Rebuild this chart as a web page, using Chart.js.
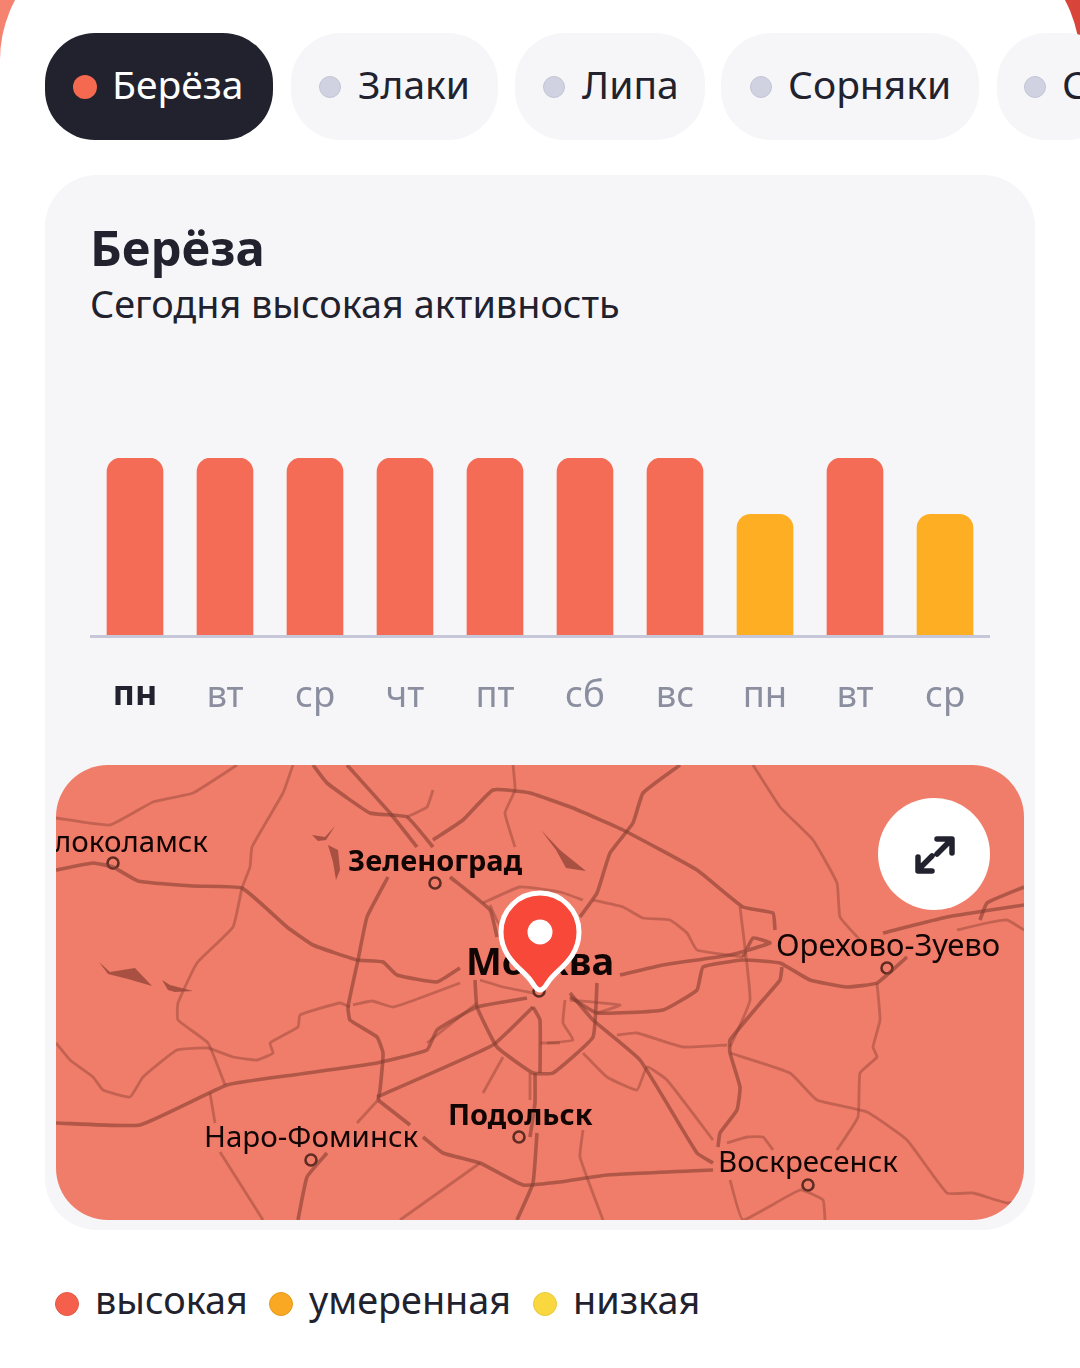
<!DOCTYPE html>
<html lang="ru"><head><meta charset="utf-8">
<script src="https://cdn.jsdelivr.net/npm/chart.js@4"></script>
<style>
html,body{margin:0;padding:0;width:1080px;height:1368px;overflow:hidden;background:linear-gradient(90deg,#f5836f 0%,#f0705c 50%,#d8443a 100%);font-family:"Noto Sans",sans-serif;color:#21222e}
#sheet{position:absolute;left:0;top:-67px;width:1080px;height:1500px;background:#fff;border-radius:127px 127px 0 0}
.abs{position:absolute}
.tab{position:absolute;top:33px;height:107px;border-radius:50px;background:#f6f6f9;font-size:39px;line-height:102px;white-space:nowrap;overflow:hidden}
.tab.on{background:#21222e;color:#fff}
.tab i,.leg i{position:absolute;border-radius:50%;box-sizing:border-box}
.tab i{width:22px;height:22px;top:43px;background:#d0d2e1;border:1px solid #c2c4d6}
.tab.on i{background:#f4694f;border:0;width:24px;height:24px;top:42px}
.tab span{position:absolute;top:0}
#card{position:absolute;left:45px;top:175px;width:990px;height:1055px;background:#f6f6f9;border-radius:52px}
#ttl{position:absolute;left:90px;top:213px;font-size:49px;font-weight:700;line-height:68px}
#sub{position:absolute;left:90px;top:279px;font-size:37.8px;line-height:50px;white-space:nowrap}
#bars{position:absolute;left:90px;top:458px}
#mapbox{position:absolute;left:56px;top:765px;width:968px;height:455px;border-radius:52px;overflow:hidden;background:#f07c6a}
#mapbox canvas{position:absolute;left:0;top:0}
.city{position:absolute;color:#120605;white-space:nowrap;font-size:29.5px;line-height:34px;text-shadow:0 0 2px rgba(240,124,106,.9)}
.city.b{font-weight:700}
.leg{position:absolute;font-size:37.8px;line-height:50px;top:1275px;white-space:nowrap}
.dot{position:absolute;width:24px;height:24px;top:1292px;border-radius:50%}
</style></head><body>
<div id="sheet"></div>
<div class="tab on" style="left:45px;width:228px"><i style="left:28px"></i><span style="left:67px">Берёза</span></div>
<div class="tab" style="left:291px;width:207px"><i style="left:28px"></i><span style="left:67px">Злаки</span></div>
<div class="tab" style="left:515px;width:190px"><i style="left:28px"></i><span style="left:67px">Липа</span></div>
<div class="tab" style="left:721px;width:258px"><i style="left:29px"></i><span style="left:67px">Сорняки</span></div>
<div class="tab" style="left:997px;width:120px"><i style="left:27px"></i><span style="left:65px">Сосна</span></div>
<div id="card"></div>
<div id="ttl">Берёза</div>
<div id="sub">Сегодня высокая активность</div>
<canvas id="bars" width="900" height="280" style="width:900px;height:280px"></canvas>
<div id="mapbox">
<canvas id="map" width="968" height="455" style="width:968px;height:455px"></canvas>
<div class="city" style="right:816px;top:59px">Волоколамск</div>
<div class="city b" style="left:292px;top:78px;font-size:29px">Зеленоград</div>
<div class="city b" style="left:410px;top:171px;font-size:38px;line-height:48px">Москва</div>
<div class="city" style="left:720px;top:162px;font-size:31px">Орехово-Зуево</div>
<div class="city" style="left:148px;top:354px">Наро-Фоминск</div>
<div class="city b" style="left:392px;top:332px;font-size:29px">Подольск</div>
<div class="city" style="left:662px;top:379px">Воскресенск</div>
<svg class="abs" style="left:0;top:0" width="968" height="455" viewBox="56 765 968 455">
<path d="M540 990c-4 0-5-4-9-9-7-11-30-22-30-49a39 39 0 0 1 78 0c0 27-23 38-30 49-4 5-5 9-9 9z" fill="#f8483a" stroke="#fff" stroke-width="5" stroke-linejoin="round"/>
<circle cx="540" cy="932" r="12.5" fill="#fff"/>
<circle cx="934" cy="854" r="56" fill="#fff"/>
<path d="M948 843l-11 11M937 839h15v14M922 866l10-10M918 857v14h14" fill="none" stroke="#21222e" stroke-width="5.5" stroke-linecap="round" stroke-linejoin="round"/>
</svg>
</div>
<div class="dot" style="left:55px;background:#f4604c;border:1px solid #e25a46;box-sizing:border-box"></div>
<div class="leg" style="left:95px">высокая</div>
<div class="dot" style="left:269px;background:#f8a823;border:1px solid #e59a1f;box-sizing:border-box"></div>
<div class="leg" style="left:309px">умеренная</div>
<div class="dot" style="left:533px;background:#f9d83f;border:1px solid #e8c938;box-sizing:border-box"></div>
<div class="leg" style="left:573px">низкая</div>
<script>
const days=["пн","вт","ср","чт","пт","сб","вс","пн","вт","ср"];
const activity=[100,100,100,100,100,100,100,68.5,100,68.5];
const barColors=["#f46c56","#f46c56","#f46c56","#f46c56","#f46c56","#f46c56","#f46c56","#fdae23","#f46c56","#fdae23"];

const majorRoads=[
[[56,870],[93,863],[113,867],[138,881],[193,886],[242,888],[287,927],[313,945],[357,960],[383,962],[397,975],[437,982],[460,968]],
[[56,1123],[140,1125],[227,1085],[293,1075],[377,1063],[427,1050],[437,1030],[477,1007],[527,998]],
[[377,1097],[493,1045],[533,1007]],
[[388,877],[367,917],[358,960],[348,1007],[350,1020],[377,1037],[383,1053],[380,1090],[378,1100]],
[[378,1100],[410,1125]],[[423,1137],[443,1153],[480,1163],[523,1185],[560,1182],[607,1175],[713,1170]],
[[475,980],[477,1007],[497,1047],[533,1073],[553,1073],[593,1037],[597,983]],
[[313,765],[327,783],[370,813],[407,817],[433,847]],[[347,765],[390,813],[417,847]],
[[433,840],[463,820],[493,790],[530,793],[573,808],[623,830],[697,870],[743,907],[773,913],[775,930]],
[[680,765],[643,793],[633,823],[610,853],[597,893],[580,917]],
[[450,877],[490,910],[497,937]],
[[620,975],[663,965],[730,955],[770,943],[753,938],[743,957]],
[[570,997],[597,1013],[663,1010],[697,990],[703,967],[743,960],[780,963],[810,980],[847,987],[877,983],[907,957]],
[[782,967],[780,980],[763,1000],[730,1040],[730,1053],[740,1087],[737,1110],[720,1133],[718,1147]],
[[570,993],[593,1020],[640,1060],[697,1153],[713,1163]],
[[883,933],[947,917],[1024,905]],[[980,920],[987,903],[1024,887]],
[[327,1153],[307,1177],[298,1220]],
[[537,1133],[533,1183],[517,1220]],[[533,1007],[540,1020],[540,1073]],[[535,1073],[535,1103],[530,1137]]
];
const minorRoads=[
[[56,818],[110,825],[153,802],[193,793],[237,765]],
[[293,765],[283,793],[252,847],[250,867],[242,888],[233,927],[197,963],[178,1003],[178,1020],[208,1043],[225,1085]],
[[56,1043],[70,1060],[93,1077],[103,1090],[130,1097],[143,1077],[177,1050],[208,1048],[233,1057],[257,1060],[273,1053],[270,1043],[298,1027],[300,1015],[340,1003],[350,1007]],
[[378,1100],[357,1123]],
[[220,1152],[263,1220]],[[210,1093],[215,1123]],
[[433,790],[427,807],[407,817]],
[[513,765],[515,790],[505,813],[515,847]],
[[483,903],[520,887],[560,892],[583,900]],
[[593,900],[623,907],[643,918],[670,920],[687,933],[697,950],[743,957]],
[[730,1053],[790,1073],[817,1100],[867,1112],[907,1140],[947,1193],[973,1193],[1007,1203],[1024,1200]],
[[877,983],[880,1020],[873,1047],[877,1057],[860,1073],[858,1117],[837,1150]],
[[753,765],[780,807],[813,840],[837,883],[840,917],[860,940]],
[[957,930],[987,923],[1007,920],[1024,930]],
[[740,907],[750,1000],[730,1047]],
[[617,1035],[637,1033],[683,1047],[727,1045]],
[[583,1053],[607,1077],[637,1090],[647,1067],[667,1080],[713,1140]],
[[583,1130],[580,1157],[603,1220]],
[[730,1180],[743,1220],[800,1190],[823,1200],[825,1220]],
[[727,1143],[747,1137],[763,1137],[773,1150]],
[[547,1043],[573,1040],[563,1023],[565,1000]],
[[480,980],[503,987],[533,993]],[[477,1003],[427,1043]],
[[353,1005],[372,1001],[393,1007],[420,998],[460,983]],
[[503,1057],[483,1093]],[[480,1163],[400,1220]],
[[530,1073],[530,1100]],[[540,1043],[560,1043]],
[[597,1013],[620,1005],[570,1000]],
[[490,905],[500,925],[520,900]]
];
const lakes=[
[[99,962],[110,972],[135,968],[152,986],[128,979],[108,974]],
[[162,980],[170,985],[193,991],[175,992],[168,990]],
[[312,835],[325,837],[335,826],[326,840],[318,841]],
[[328,845],[338,850],[340,870],[336,880],[333,862]],
[[541,830],[560,850],[586,871],[566,868],[556,850]]
];
const cityPoints=[[113,863],[435,883],[539,991],[887,968],[311,1160],[519,1137],[808,1185]];

const pts=a=>a.map(p=>({x:p[0],y:p[1]}));

new Chart(document.getElementById("bars"),{
 type:"bar",
 data:{labels:days,datasets:[{data:activity,backgroundColor:barColors,barThickness:56,
   borderRadius:{topLeft:14,topRight:14,bottomLeft:0,bottomRight:0},borderSkipped:false}]},
 options:{responsive:false,animation:false,devicePixelRatio:1,
  layout:{padding:0,autoPadding:false},
  plugins:{legend:{display:false},tooltip:{enabled:false}},
  scales:{
   y:{display:false,min:0,max:100},
   x:{grid:{display:false},
      border:{display:true,color:"#c6c7d9",width:3,z:1},
      afterFit(s){s.height=101.5;s.paddingLeft=0;s.paddingRight=0},
      ticks:{padding:30,maxRotation:0,autoSkip:false,
       font:c=>({family:"'Noto Sans'",size:c.index===0?34:36.5,weight:c.index===0?"700":"400"}),
       color:c=>c.index===0?"#21222e":"#8b8e9f"}}
  }}
});

const mapSets=[];
lakes.forEach(l=>mapSets.push({type:"line",data:pts(l.concat([l[0]])),borderWidth:0,backgroundColor:"rgba(150,70,58,.8)",fill:"shape",pointRadius:0,tension:0}));
minorRoads.forEach(r=>mapSets.push({type:"line",data:pts(r),borderColor:"rgba(130,60,48,.4)",borderWidth:2.8,borderJoinStyle:"round",pointRadius:0,tension:.12,fill:false}));
majorRoads.forEach(r=>mapSets.push({type:"line",data:pts(r),borderColor:"rgba(130,60,48,.58)",borderWidth:3.6,borderJoinStyle:"round",pointRadius:0,tension:.12,fill:false}));
mapSets.push({type:"scatter",data:pts(cityPoints),pointRadius:5.5,pointBackgroundColor:"rgba(0,0,0,0)",pointBorderColor:"#5f2c24",pointBorderWidth:2.6,showLine:false});
new Chart(document.getElementById("map"),{
 type:"scatter",
 data:{datasets:mapSets},
 options:{responsive:false,animation:false,devicePixelRatio:1,layout:{padding:0,autoPadding:false},
  plugins:{legend:{display:false},tooltip:{enabled:false}},
  scales:{x:{type:"linear",display:false,min:56,max:1024},y:{type:"linear",display:false,min:765,max:1220,reverse:true}}}
});
</script>
</body></html>
